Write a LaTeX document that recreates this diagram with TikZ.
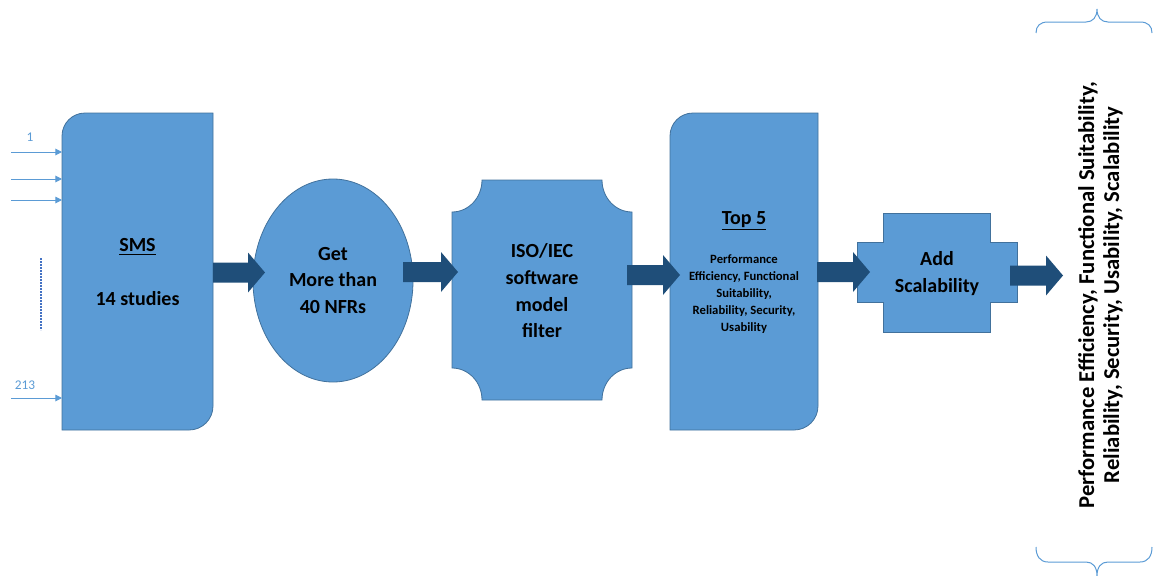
\documentclass[tikz,border=0pt]{standalone}
\usepackage{fontspec}
\setmainfont{Carlito}
\usetikzlibrary{arrows.meta,calc,shapes.geometric}
\definecolor{stagefill}{HTML}{5B9BD5}
\definecolor{stageline}{HTML}{41719C}
\definecolor{arrowblue}{HTML}{1F4E79}
\definecolor{inputblue}{HTML}{5B9BD5}
\definecolor{dotblue}{HTML}{4472C4}

% thick block arrow between two named points (same height)
\newcommand\blockflow[2]{%
  \fill[arrowblue] let \p1=(#1), \p2=(#2) in
    (\x1,\y1+7.5pt) -- (\x2-12.75pt,\y1+7.5pt) -- (\x2-12.75pt,\y1+15pt)
    -- (\x2,\y1) -- (\x2-12.75pt,\y1-15pt) -- (\x2-12.75pt,\y1-7.5pt)
    -- (\x1,\y1-7.5pt) -- cycle;}

\begin{document}
\begin{tikzpicture}[x=0.75pt,y=-0.75pt,
  stage/.style={fill=stagefill,draw=stageline,line width=0.6pt},
  bigtext/.style={font=\fontsize{15}{20}\selectfont\bfseries,align=center,text=black,inner sep=0pt},
  smalltext/.style={font=\fontsize{9.5}{12.75}\selectfont\bfseries,align=center,text=black,inner sep=0pt},
  feed/.style={draw=inputblue,line width=0.75pt,-{Triangle[length=5pt,width=5pt]}},
  feedlabel/.style={text=inputblue,font=\fontsize{10}{12}\selectfont,inner sep=0pt},
  bracket/.style={draw=inputblue,line width=0.75pt}]
\useasboundingbox (0,0) rectangle (1153,575);

% --- SMS block (rounded top-left and bottom-right corners)
\path[stage] (62,430) -- (62,136) .. controls (62,123.3) and (72.3,113) .. (85,113)
  -- (213,113) -- (213,406) .. controls (213,419.3) and (202.3,430) .. (189,430) -- cycle;
\node[bigtext] (sms) at (137.5,272) {\underline{SMS}\\[20pt]14 studies};

% --- incoming studies
\coordinate (in1) at (11,152);  \coordinate (sms-in1) at (62,152);
\coordinate (in2) at (11,179);  \coordinate (sms-in2) at (62,179);
\coordinate (in3) at (11,200);  \coordinate (sms-in3) at (62,200);
\coordinate (in4) at (11,398);  \coordinate (sms-in4) at (62,398);
\draw[feed] (in1) -- (sms-in1);
\draw[feed] (in2) -- (sms-in2);
\draw[feed] (in3) -- (sms-in3);
\draw[feed] (in4) -- (sms-in4);
\node[feedlabel] (first) at (30,137) {1};
\node[feedlabel] (last) at (25,385) {213};
\coordinate (dots-top) at (41,258);
\coordinate (dots-bot) at (41,330);
\draw[dotblue,line width=1.5pt,dash pattern=on 1.2pt off 1.05pt] (dots-top) -- (dots-bot);

% --- NFR ellipse
\node[stage,ellipse,minimum width=120pt,minimum height=152.25pt,inner sep=0pt] (nfrshape) at (333,280.5) {};
\node[bigtext] (nfr) at (333,280.5) {Get\\More than\\40 NFRs};

% --- ISO/IEC filter (plaque with concave corners)
\path[stage] (482,180) -- (602,180) .. controls (602,197.7) and (615.4,212) .. (632,212)
  -- (632,368) .. controls (615.4,368) and (602,382.3) .. (602,400)
  -- (482,400) .. controls (482,382.3) and (468.6,368) .. (452,368)
  -- (452,212) .. controls (468.6,212) and (482,197.7) .. (482,180) -- cycle;
\node[bigtext] (iso) at (542,291) {ISO/IEC\\software\\model\\filter};

% --- Top 5 block
\path[stage] (670,430) -- (670,136) .. controls (670,123.3) and (680.3,113) .. (693,113)
  -- (818,113) -- (818,406) .. controls (818,419.3) and (807.3,430) .. (794,430) -- cycle;
\node[bigtext,anchor=base] (top) at (744,224) {\underline{Top 5}};
\node[smalltext] (topfive) at (744,294) {Performance\\Efficiency, Functional\\Suitability,\\Reliability, Security,\\Usability};

% --- Add Scalability (cross shape)
\path[stage] (883,213) -- (990,213) -- (990,242) -- (1017,242) -- (1017,302) -- (990,302)
  -- (990,332) -- (883,332) -- (883,302) -- (857,302) -- (857,242) -- (883,242) -- cycle;
\node[bigtext] (add) at (937,273.5) {Add\\Scalability};

% --- result list between braces
\node[bigtext,rotate=90,font=\fontsize{17}{18.75}\selectfont\bfseries] (result) at (1100.5,295)
  {Performance Efficiency, Functional Suitability,\\Reliability, Security, Usability, Scalability};
\draw[bracket] (1036,33) .. controls (1036,26) and (1040,22) .. (1048,22) -- (1086,22)
  .. controls (1093,22) and (1097,17) .. (1097,9)
  .. controls (1097,17) and (1101,22) .. (1108,22) -- (1140,22)
  .. controls (1148,22) and (1152,26) .. (1152,33);
\draw[bracket] (1036,547) .. controls (1036,556) and (1040,562) .. (1048,562) -- (1086,562)
  .. controls (1093,562) and (1097,567) .. (1097,576)
  .. controls (1097,567) and (1101,562) .. (1108,562) -- (1140,562)
  .. controls (1148,562) and (1152,556) .. (1152,547);

% --- flow arrows
\coordinate (sms-out) at (213,272.5);  \coordinate (nfr-in) at (265,272.5);
\coordinate (nfr-out) at (403,272);    \coordinate (iso-in) at (458,272);
\coordinate (iso-out) at (627,275);    \coordinate (top-in) at (680,275);
\coordinate (top-out) at (817,272);    \coordinate (add-in) at (870,272);
\coordinate (add-out) at (1010,275.5); \coordinate (result-in) at (1063,275.5);
\blockflow{sms-out}{nfr-in}
\blockflow{nfr-out}{iso-in}
\blockflow{iso-out}{top-in}
\blockflow{top-out}{add-in}
\blockflow{add-out}{result-in}
\end{tikzpicture}
\end{document}
